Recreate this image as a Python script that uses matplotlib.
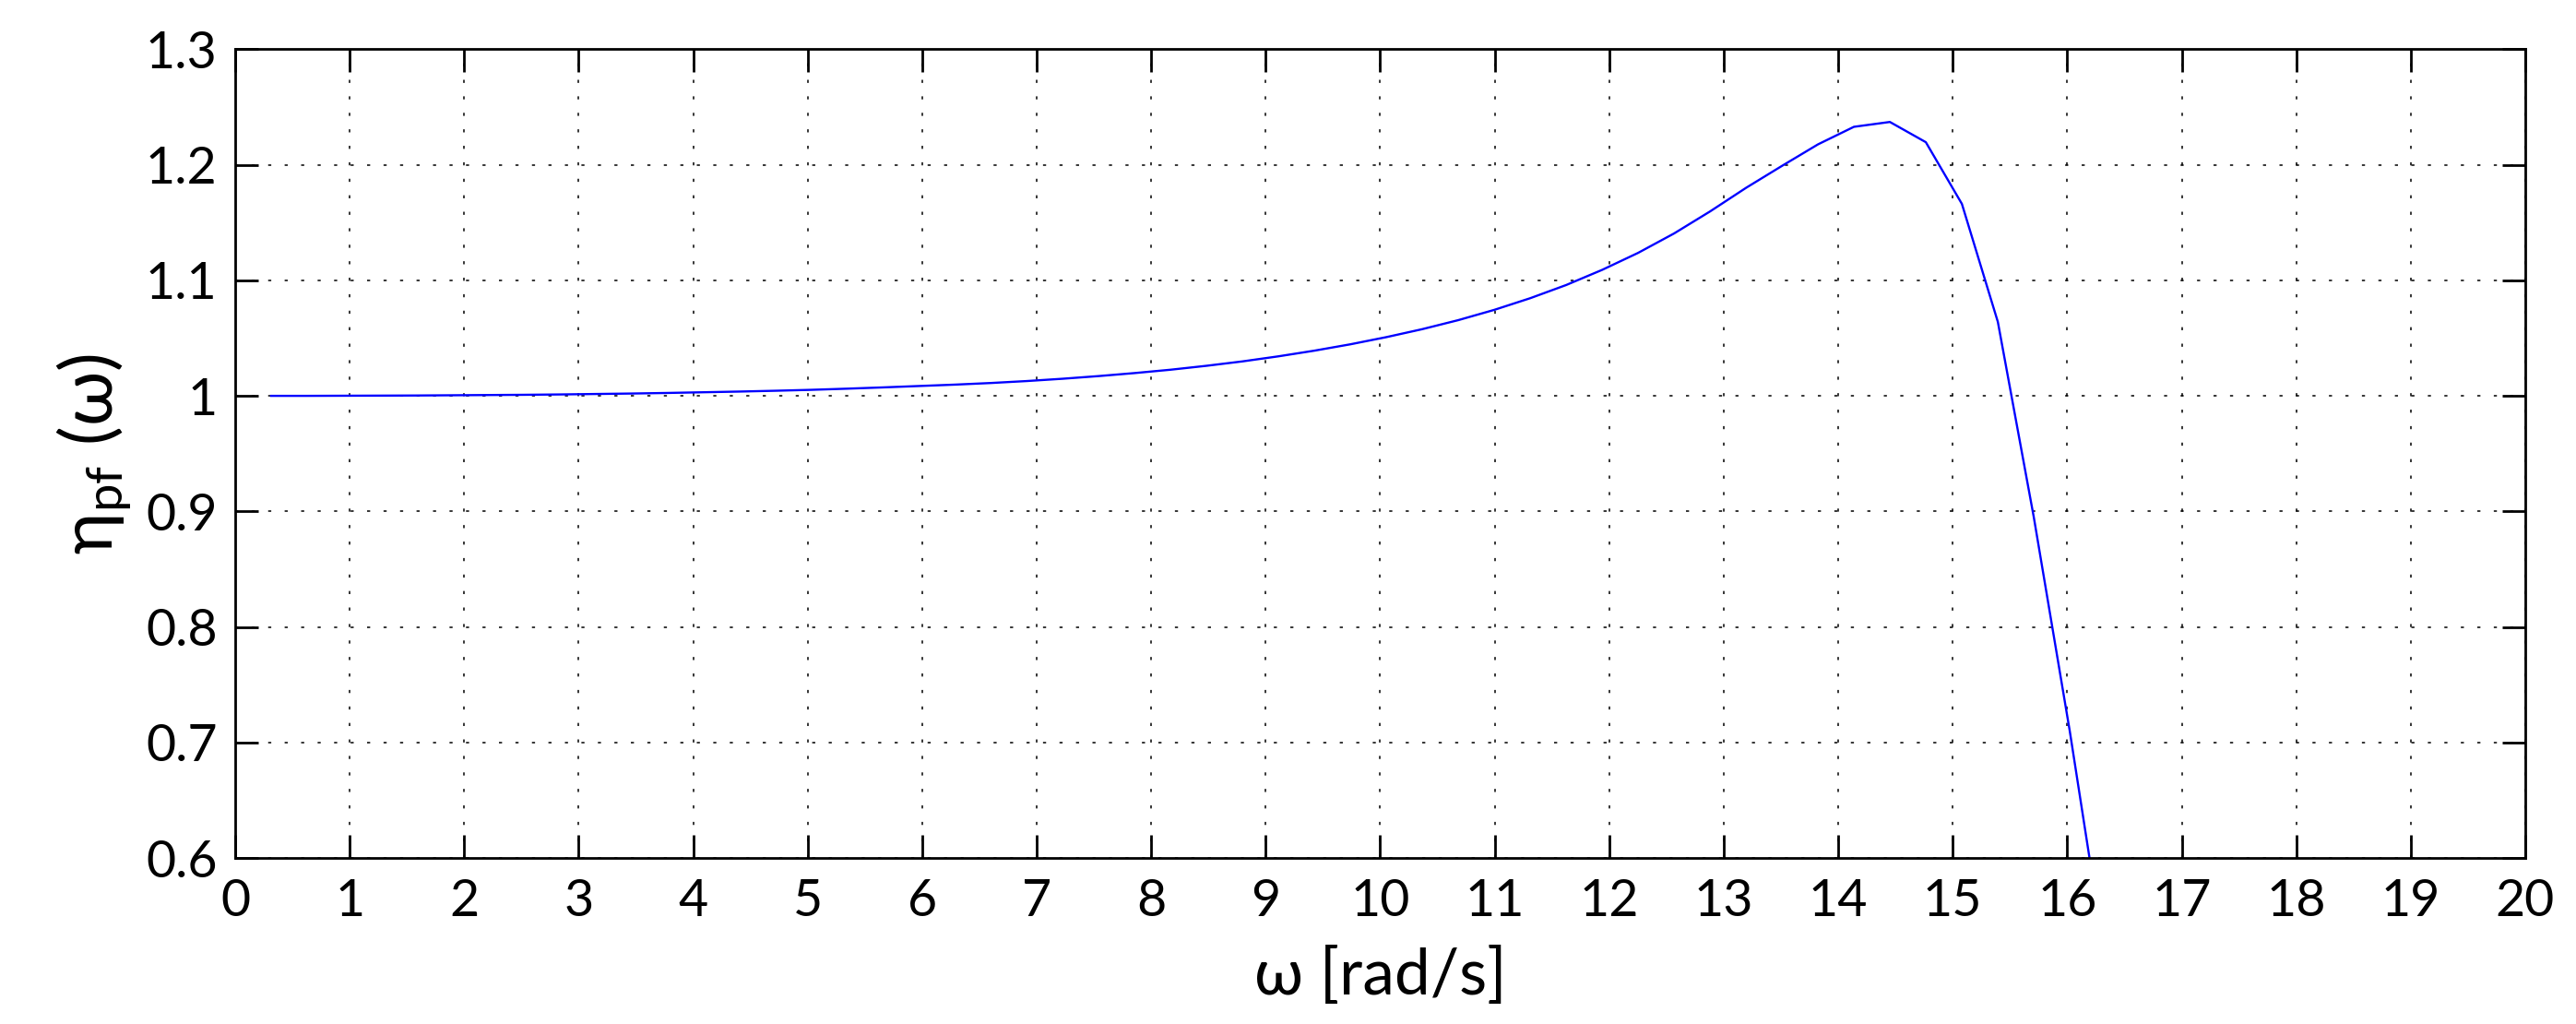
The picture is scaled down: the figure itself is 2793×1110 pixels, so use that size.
import numpy as np
import matplotlib
matplotlib.use('Agg')
from matplotlib import pyplot as plt
from matplotlib.ticker import FuncFormatter

plt.rcParams['font.family'] = ['Lato', 'DejaVu Sans']
plt.rcParams['mathtext.fontset'] = 'custom'
plt.rcParams['mathtext.rm'] = 'Lato'
plt.rcParams['mathtext.default'] = 'regular'

# frequency samples [rad/s] and efficiency
omega = [0.314, 0.628, 0.942, 1.257, 1.571, 1.885, 2.199, 2.513, 2.827, 3.142,
         3.456, 3.770, 4.084, 4.398, 4.712, 5.027, 5.341, 5.655, 5.969, 6.283,
         6.597, 6.912, 7.226, 7.540, 7.854, 8.168, 8.482, 8.796, 9.111, 9.425,
         9.739, 10.053, 10.367, 10.681, 10.996, 11.310, 11.624, 11.938, 12.252, 12.566,
         12.881, 13.195, 13.509, 13.823, 14.137, 14.451, 14.765, 15.080, 15.394, 15.708,
         16.022, 16.336]
eta_pf = [1.0000, 1.0000, 1.0001, 1.0002, 1.0003, 1.0005, 1.0007, 1.0009, 1.0012, 1.0016,
          1.0020, 1.0025, 1.0031, 1.0037, 1.0044, 1.0052, 1.0062, 1.0073, 1.0085, 1.0097,
          1.0111, 1.0128, 1.0148, 1.0171, 1.0197, 1.0226, 1.0260, 1.0298, 1.0342, 1.0391,
          1.0446, 1.0508, 1.0577, 1.0655, 1.0744, 1.0845, 1.0959, 1.1090, 1.1237, 1.1405,
          1.1596, 1.1800, 1.1990, 1.2176, 1.2328, 1.2370, 1.2195, 1.1661, 1.0640, 0.8950,
          0.7100, 0.5100]

xticks = list(range(0, 21))
yticks = [0.6, 0.7, 0.8, 0.9, 1.0, 1.1, 1.2, 1.3]

fig = plt.figure(figsize=(27.93, 11.10), dpi=100)
ax = fig.add_axes([0.0913, 0.162, 0.889, 0.790])
ax.plot(omega, eta_pf, color='#0000ff', linewidth=1.7)

ax.set_xlim(0, 20)
ax.set_ylim(0.6, 1.3)
ax.set_xticks(xticks)
ax.set_yticks(yticks)
ax.yaxis.set_major_formatter(FuncFormatter(lambda v, p: '%g' % round(v, 2)))
ax.grid(True, color='black', linestyle=(0, (2.2, 9.5)), linewidth=1.1)
ax.tick_params(axis='both', which='major', direction='in', length=18, width=2,
               top=True, right=True, labelsize=40, pad=14, colors='black')
ax.tick_params(axis='x', pad=16)
for s in ax.spines.values():
    s.set_linewidth(2)

ax.set_xlabel('ω [rad/s]', fontsize=50, labelpad=16)
ax.set_ylabel(r'$\eta_{pf}\;(\omega)$', fontsize=56, labelpad=10)

plt.savefig('out.png', dpi=100)
